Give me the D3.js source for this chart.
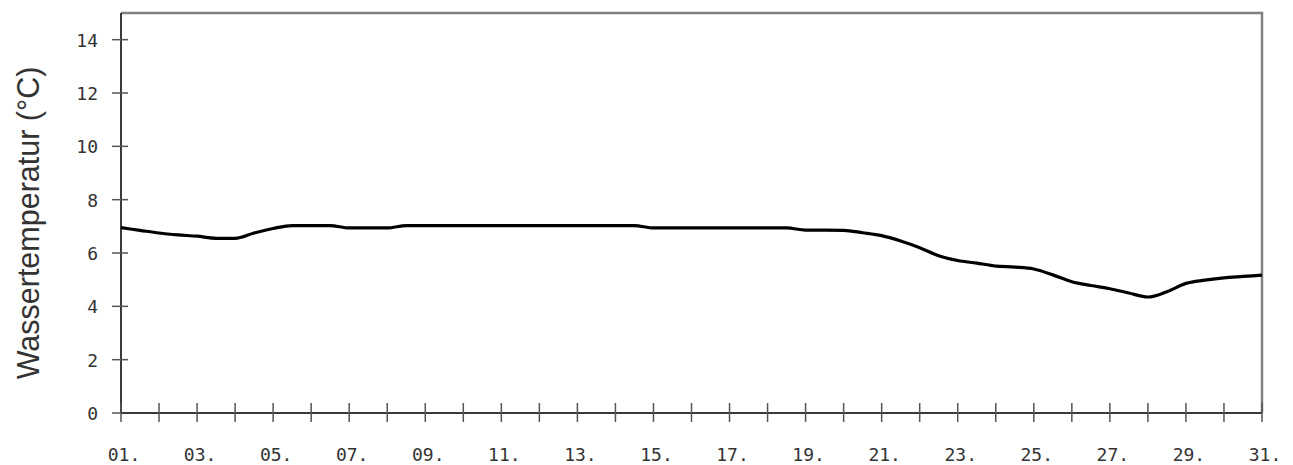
<!DOCTYPE html>
<html>
<head>
<meta charset="utf-8">
<script src="https://cdn.jsdelivr.net/npm/d3@7/dist/d3.min.js"></script>
<style>
  html, body { margin: 0; padding: 0; background: #fff; }
  svg { display: block; }
</style>
</head>
<body>
<svg id="chart" width="1293" height="465"></svg>
<script>
// Daily water temperature, sampled every half day (day of month, °C)
const days = [
  1, 1.5, 2, 2.5, 3, 3.5, 4, 4.5, 5, 5.5, 6, 6.5, 7, 7.5, 8, 8.5, 9, 9.5, 10, 10.5,
  11, 11.5, 12, 12.5, 13, 13.5, 14, 14.5, 15, 15.5, 16, 16.5, 17, 17.5, 18, 18.5,
  19, 19.5, 20, 20.5, 21, 21.5, 22, 22.5, 23, 23.5, 24, 24.5, 25, 25.5, 26, 26.5,
  27, 27.5, 28, 28.5, 29, 29.5, 30, 30.5, 31
];
const temperature = [
  6.95, 6.85, 6.75, 6.68, 6.63, 6.55, 6.55, 6.75, 6.92, 7.03, 7.03, 7.03, 6.94, 6.94, 6.94, 7.03, 7.03, 7.03, 7.03, 7.03,
  7.03, 7.03, 7.03, 7.03, 7.03, 7.03, 7.03, 7.03, 6.94, 6.94, 6.94, 6.94, 6.94, 6.94, 6.94, 6.94,
  6.86, 6.86, 6.85, 6.76, 6.65, 6.45, 6.2, 5.9, 5.72, 5.62, 5.51, 5.47, 5.4, 5.18, 4.92, 4.78,
  4.66, 4.5, 4.35, 4.55, 4.86, 4.98, 5.07, 5.12, 5.17
];
const xTickDays = d3.range(1, 32);
const xLabelDays = d3.range(1, 32, 2);
const yTicks = [0, 2, 4, 6, 8, 10, 12, 14];
const yTitle = "Wassertemperatur (°C)";

const svg = d3.select("#chart");
const margin = { left: 121, right: 31, top: 13, bottom: 52 };
const W = 1293, H = 465;

const x = d3.scaleLinear().domain([1, 31]).range([margin.left, W - margin.right]);
const y = d3.scaleLinear().domain([0, 15]).range([H - margin.bottom, margin.top]);

// frame: top and right edges in lighter grey
svg.append("path")
  .attr("d", `M${x(1)},${y(15)}H${x(31)}V${y(0)}`)
  .attr("fill", "none")
  .attr("stroke", "#808080")
  .attr("stroke-width", 2.5);

// y axis
const yAxis = svg.append("g").attr("transform", `translate(${x(1)},0)`);
yAxis.append("line")
  .attr("y1", y(0)).attr("y2", y(15))
  .attr("stroke", "#3a3a3a").attr("stroke-width", 2);
yAxis.selectAll("line.tick").data(yTicks).join("line")
  .attr("class", "tick")
  .attr("x1", -9).attr("x2", 7)
  .attr("y1", d => y(d)).attr("y2", d => y(d))
  .attr("stroke", "#555").attr("stroke-width", 1.5);
yAxis.selectAll("text").data(yTicks).join("text")
  .attr("x", -23).attr("y", d => y(d) + 7)
  .attr("text-anchor", "end")
  .attr("font-family", "DejaVu Sans Mono, monospace")
  .attr("font-size", 18)
  .attr("fill", "#333")
  .text(d => d);

// x axis
const xAxis = svg.append("g").attr("transform", `translate(0,${y(0)})`);
xAxis.append("line")
  .attr("x1", x(1)).attr("x2", x(31))
  .attr("stroke", "#3a3a3a").attr("stroke-width", 2);
xAxis.selectAll("line.tick").data(xTickDays).join("line")
  .attr("class", "tick")
  .attr("x1", d => x(d)).attr("x2", d => x(d))
  .attr("y1", -10).attr("y2", 9)
  .attr("stroke", "#555").attr("stroke-width", 1.5);
xAxis.selectAll("text").data(xLabelDays).join("text")
  .attr("x", d => x(d) + 3).attr("y", 48)
  .attr("text-anchor", "middle")
  .attr("font-family", "DejaVu Sans Mono, monospace")
  .attr("font-size", 18)
  .attr("fill", "#333")
  .text(d => String(d).padStart(2, "0") + ".");

// y title
svg.append("text")
  .attr("transform", `translate(39,${(y(0) + y(15)) / 2 + 10}) rotate(-90)`)
  .attr("text-anchor", "middle")
  .attr("font-family", "Liberation Sans, Arial, sans-serif")
  .attr("font-size", 30.5)
  .attr("fill", "#333")
  .text(yTitle);

// temperature curve
const line = d3.line()
  .x((d, i) => x(days[i]))
  .y(d => y(d))
  .curve(d3.curveMonotoneX);

svg.append("path")
  .datum(temperature)
  .attr("d", line)
  .attr("fill", "none")
  .attr("stroke", "#000")
  .attr("stroke-width", 3.2)
  .attr("stroke-linejoin", "round");
</script>
</body>
</html>
